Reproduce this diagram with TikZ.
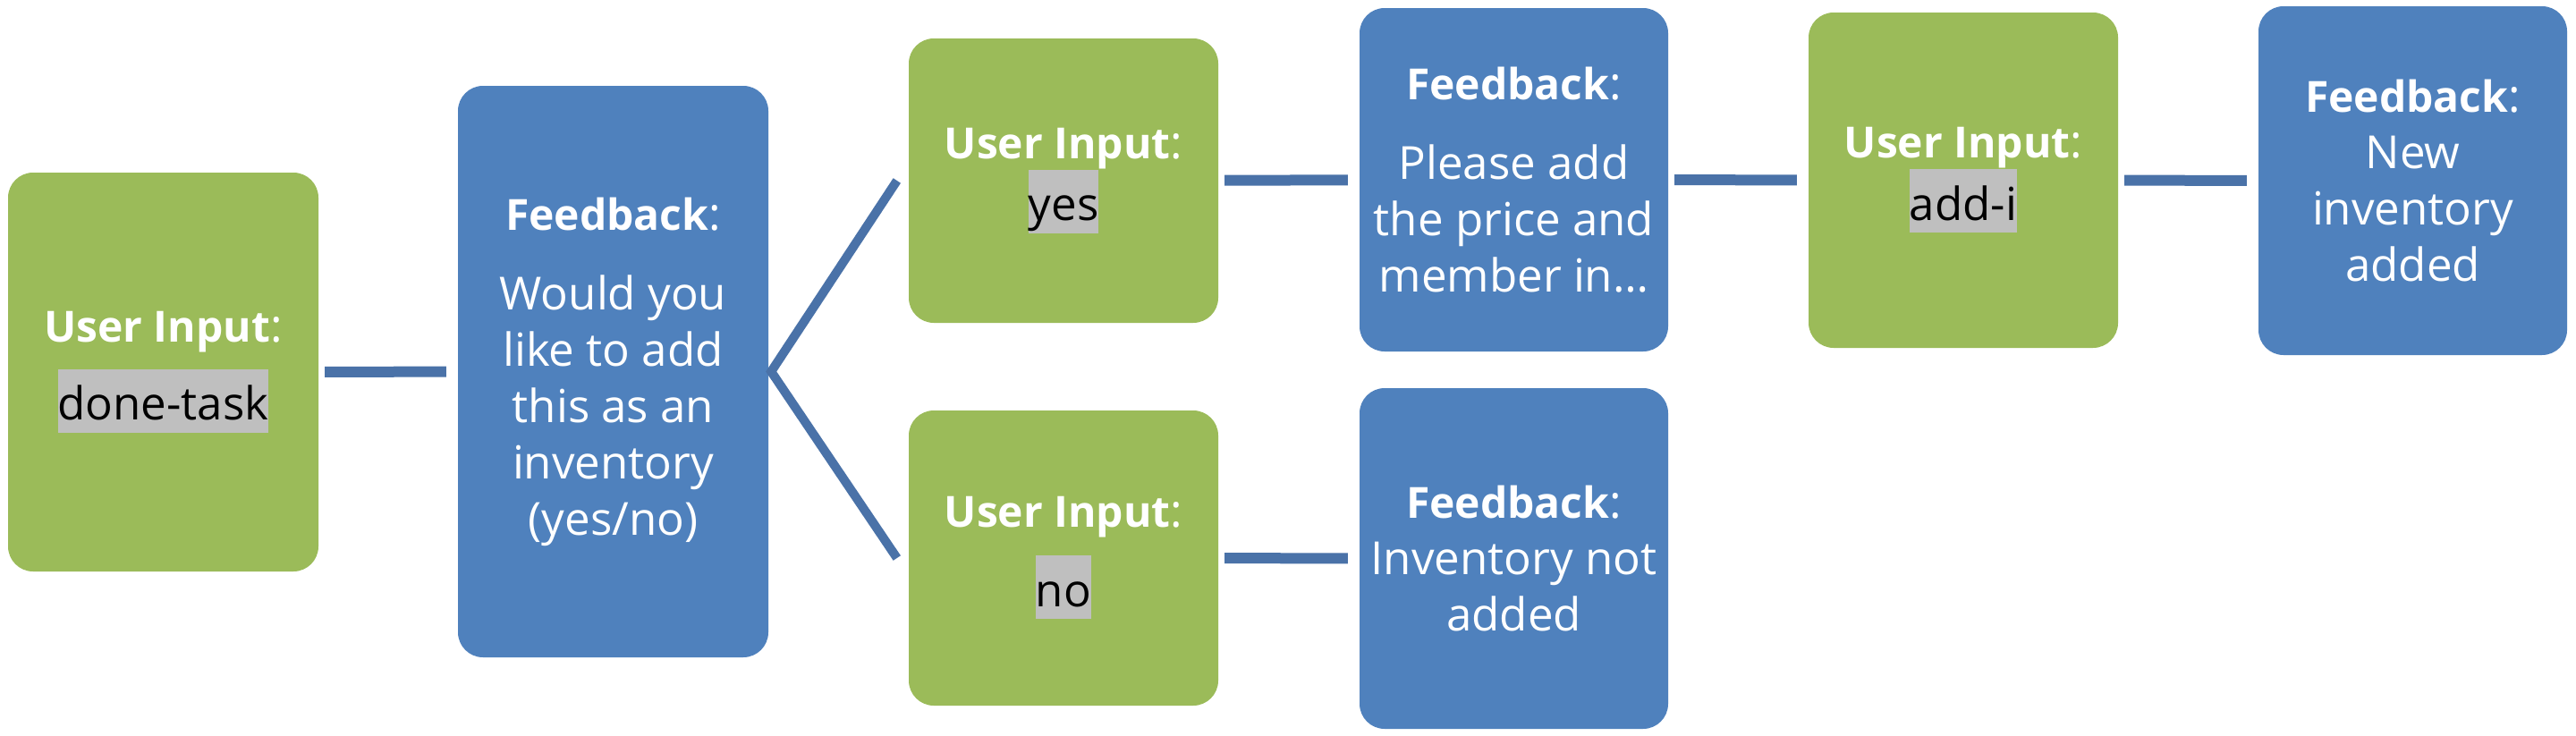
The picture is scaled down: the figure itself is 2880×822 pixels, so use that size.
\documentclass[tikz,border=0pt]{standalone}
\usepackage{fontspec}
\setmainfont{Open Sans}
\definecolor{gr}{HTML}{9BBB59}
\definecolor{bl}{HTML}{4F81BD}
\definecolor{ln}{HTML}{4A72A8}
\definecolor{hl}{HTML}{BFBFBF}
\newcommand{\hil}[1]{{\setlength{\fboxsep}{0pt}\colorbox{hl}{\color{black}\rule[-14pt]{0pt}{71pt}#1}}}
\newcommand{\hd}[1]{{\fontsize{48}{63}\selectfont\bfseries #1}}
\tikzset{
  box/.style={rounded corners=28pt, text=white, align=center, inner sep=0pt,
    font=\fontsize{51}{63}\selectfont},
  gbox/.style={box, fill=gr},
  bbox/.style={box, fill=bl},
  conn/.style={draw=ln, line width=12pt, shorten <=7pt, shorten >=13pt},
  fork/.style={draw=ln, line width=10pt},
}
\begin{document}
\begin{tikzpicture}[x=1pt,y=-1pt]
\fill[white] (0,0) rectangle (2880,822);
\useasboundingbox (0,0) rectangle (2880,822);

\node[gbox, minimum width=347pt, minimum height=446pt] (n1) at (182.5,416)
  {\hd{User Input}:\\[18pt]\hil{done-task}};
\node[bbox, minimum width=347pt, minimum height=639pt] (n2) at (685.5,415.5)
  {\hd{Feedback}:\\[26pt]Would you\\like to add\\this as an\\inventory\\(yes/no)};
\node[gbox, minimum width=346pt, minimum height=318pt] (n3) at (1189,202)
  {\hd{User Input}:\\\hil{yes}};
\node[gbox, minimum width=346pt, minimum height=330pt] (n4) at (1189,624)
  {\hd{User Input}:\\[19pt]\hil{no}};
\node[bbox, minimum width=345pt, minimum height=384pt] (n5) at (1692.5,201)
  {\hd{Feedback}:\\[26pt]Please add\\the price and\\member in…};
\node[bbox, minimum width=345pt, minimum height=381pt] (n6) at (1692.5,624.5)
  {\hd{Feedback}:\\Inventory not\\added};
\node[gbox, minimum width=346pt, minimum height=375pt] (n7) at (2195,201.5)
  {\hd{User Input}:\\\hil{add-i}};
\node[bbox, minimum width=345pt, minimum height=390pt] (n8) at (2697.5,202)
  {\hd{Feedback}:\\New\\inventory\\added};

\draw[conn] (n1) -- (n2);
\coordinate (fk) at ([xshift=3pt]n2.east);
\coordinate (fy) at ([xshift=-13pt]n3.west);
\coordinate (fn) at ([xshift=-13pt]n4.west);
\draw[fork] (fy) -- (fk) -- (fn);
\draw[conn] (n3) -- (n5);
\draw[conn] (n4) -- (n6);
\draw[conn] (n5) -- (n7);
\draw[conn] (n7) -- (n8);
\end{tikzpicture}
\end{document}
